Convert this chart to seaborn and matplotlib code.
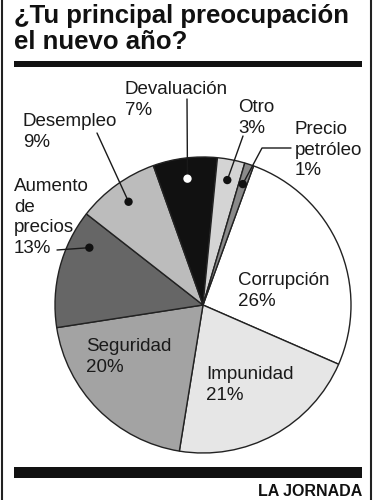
import numpy as np
import matplotlib
matplotlib.use("Agg")
import matplotlib.pyplot as plt
import seaborn as sns
from matplotlib.patches import Rectangle

sns.set_theme(style="white")
plt.rcParams['font.family'] = ['Liberation Sans', 'DejaVu Sans']

# data
categories = ['Corrupción', 'Impunidad', 'Seguridad', 'Aumento\nde\nprecios',
              'Desempleo', 'Devaluación', 'Otro', 'Precio\npetróleo']
values = [26, 21, 20, 13, 9, 7, 3, 1]
fills = ['#ffffff', '#e6e6e6', '#a3a3a3', '#666666',
         '#bcbcbc', '#111111', '#d4d4d4', '#8a8a8a']

W, H = 374, 500
fig = plt.figure(figsize=(W / 100, H / 100), dpi=100)
ax = fig.add_axes([0, 0, 1, 1])

cx, cy, R = 203, H - 305, 148
wedges, _ = ax.pie(values, colors=fills, startangle=70, counterclock=False,
                   center=(cx, cy), radius=R,
                   wedgeprops=dict(edgecolor='#222222', linewidth=1.0))
ax.set_xlim(0, W)
ax.set_ylim(0, H)
ax.set_aspect('equal')
ax.axis('off')

lab_font = dict(fontsize=13.5, color='#1a1a1a', linespacing=1.28)

# labels inside the pie (left x, top y in pixels from top)
inside = {0: (238, 272), 1: (206, 366), 2: (86, 338)}
for i, (x, y) in inside.items():
    ax.text(x, H - y, f"{categories[i]}\n{values[i]}%", ha='left', va='top', **lab_font)

# outside labels with leader lines: index -> text pos, dot frac along wedge, line path
outside = {
    3: ((14, 178), 0.24, [(57, 250)]),
    4: ((23, 113), 0.5, [(97, 133)]),
    5: ((125, 81), 0.5, [(187, 99)]),
    6: ((238, 99), 0.5, [(243, 136)]),
    7: ((295, 121), 0.5, [(262, 148), (291, 148)]),
}
for i, ((tx, ty), frac, path) in outside.items():
    w = wedges[i]
    th = np.deg2rad(w.theta1 + frac * (w.theta2 - w.theta1))
    dx, dy = cx + 0.86 * R * np.cos(th), cy + 0.86 * R * np.sin(th)
    xs = [dx] + [p[0] for p in path]
    ys = [dy] + [H - p[1] for p in path]
    ax.plot(xs, ys, color='#1a1a1a', lw=1.0, zorder=5)
    dot_col = 'white' if i == 5 else '#111111'
    ax.scatter([dx], [dy], s=36, color=dot_col, zorder=6, edgecolor='none')
    ax.text(tx, H - ty, f"{categories[i]}\n{values[i]}%", ha='left', va='top', **lab_font)

# title, frame and footer
ax.text(14, H - 4, "¿Tu principal preocupación\nel nuevo año?", ha='left', va='top',
        fontsize=18.5, fontweight='bold', color='#111111', linespacing=1.1)
ax.add_patch(Rectangle((14, H - 67), 348, 6, color='#111111', lw=0))
ax.add_patch(Rectangle((14, H - 478), 348, 11, color='#111111', lw=0))
ax.plot([2, 2], [0, H], color='#222222', lw=1.5)
ax.plot([371, 371], [0, H], color='#222222', lw=1.5)
ax.text(362, H - 499, "LA JORNADA", ha='right', va='bottom',
        fontsize=11.5, fontweight='bold', color='#111111')

fig.savefig('out.png', dpi=100)
